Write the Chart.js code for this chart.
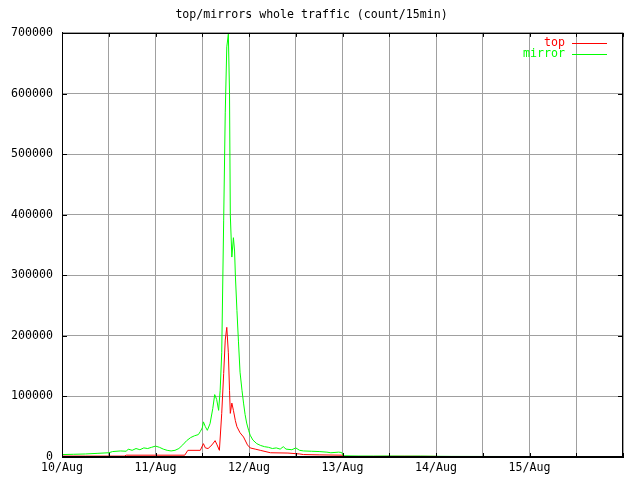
<!DOCTYPE html>
<html>
<head>
<meta charset="utf-8">
<script src="https://cdn.jsdelivr.net/npm/chart.js@4/dist/chart.umd.min.js"></script>
<style>
  html, body { margin: 0; padding: 0; background: #ffffff; }
  #chart { display: block; }
</style>
</head>
<body>
<canvas id="chart" width="640" height="480"></canvas>
<script>
// hours since 10/Aug 00:00, counts per 15 min
const mirrorHours = [0, 3, 6, 9, 12, 13, 15, 16.5, 17, 18, 19, 20, 21, 22, 23, 24, 25, 26, 27, 28, 29, 30, 31, 32, 33, 34, 35, 35.5, 36, 36.3, 36.8, 37.3, 38, 38.7, 39.2, 39.7, 40.2, 40.6, 41, 41.5, 41.9, 42.3, 42.7, 43, 43.2, 43.6, 44, 44.3, 44.5, 44.9, 45.3, 45.7, 46.2, 46.6, 47, 47.4, 47.9, 48.3, 49, 50, 51, 52, 53, 54, 55, 56, 56.8, 57.5, 59, 60, 61, 62, 64, 66, 68, 69, 71, 71.8, 72.2, 76, 80, 84, 88, 92, 96, 100, 108, 116, 124, 132, 140, 144];
const mirrorCounts = [4000, 4500, 5000, 6000, 7000, 9000, 10000, 9500, 13000, 11000, 14000, 12000, 15000, 14000, 16000, 18000, 16000, 13000, 11000, 10000, 11000, 14000, 20000, 27000, 32000, 35000, 37000, 42000, 48000, 58000, 50000, 44000, 55000, 80000, 103000, 95000, 77000, 110000, 172000, 391000, 568000, 677000, 698000, 600000, 400000, 330000, 362000, 340000, 300000, 242000, 190000, 140000, 110000, 89000, 70000, 56000, 44000, 36000, 28000, 22000, 19000, 17000, 16000, 14000, 15000, 13000, 17000, 13000, 12000, 15000, 11000, 10000, 9500, 9000, 8000, 7000, 8000, 7500, 2000, 1600, 1500, 1600, 1400, 1500, 1200, 1000, 900, 800, 800, 700, 600, 600];

const topHours = [0, 6, 12, 16, 16.5, 24, 31.5, 32.3, 35.5, 36.3, 36.8, 37.5, 38.5, 39.3, 39.8, 40.4, 41, 41.5, 41.9, 42.3, 42.7, 43, 43.2, 43.6, 44, 44.5, 44.9, 45.7, 46.6, 47.6, 48.3, 49.6, 50.9, 53.5, 58, 61, 62, 66, 72, 72.3, 80, 88, 96, 96.3, 108, 120, 132, 144];
const topCounts = [1500, 1500, 1500, 1500, 3000, 3000, 3000, 11000, 11000, 22000, 15000, 14000, 20000, 27000, 20000, 11000, 72000, 138000, 193000, 214000, 172000, 110000, 72000, 89000, 77000, 60000, 50000, 40000, 33000, 20000, 15000, 13000, 11000, 7000, 6500, 5000, 4000, 3500, 3000, 800, 1000, 1200, 1000, 300, 200, 200, 200, 200];

const seriesNames = ['top', 'mirror'];
const seriesColors = ['#ff0000', '#00ff00'];
const dayLabels = ['10/Aug', '11/Aug', '12/Aug', '13/Aug', '14/Aug', '15/Aug'];

const monoFont = "'DejaVu Sans Mono', 'Liberation Mono', monospace";

function toPoints(hours, counts) {
    return hours.map((h, i) => ({ x: h, y: counts[i] }));
}

// box + inward tics like gnuplot
const frameBox = {
    id: 'frameBox',
    afterDatasetsDraw(chart) {
        const { ctx, chartArea: a, scales } = chart;
        ctx.save();
        ctx.strokeStyle = '#000000';
        ctx.lineWidth = 1;
        ctx.beginPath();
        scales.x.ticks.forEach(t => {
            const px = Math.round(scales.x.getPixelForValue(t.value)) + 0.5;
            ctx.moveTo(px, a.bottom);
            ctx.lineTo(px, a.bottom - 4);
            ctx.moveTo(px, a.top);
            ctx.lineTo(px, a.top + 4);
        });
        scales.y.ticks.forEach(t => {
            const py = Math.round(scales.y.getPixelForValue(t.value)) + 0.5;
            ctx.moveTo(a.left, py);
            ctx.lineTo(a.left + 5, py);
            ctx.moveTo(a.right, py);
            ctx.lineTo(a.right - 5, py);
        });
        ctx.stroke();
        ctx.strokeRect(Math.round(a.left) + 0.5, Math.round(a.top) + 0.5,
            Math.round(a.right - a.left) - 1, Math.round(a.bottom - a.top) - 1);

        // key: text right-aligned, sample line after it
        ctx.font = '11.6px ' + monoFont;
        ctx.textAlign = 'right';
        ctx.textBaseline = 'middle';
        chart.data.datasets.forEach((ds, i) => {
            const y = a.top + 10 + i * 11;
            ctx.fillStyle = ds.borderColor;
            ctx.fillText(ds.label, a.right - 58, y);
            ctx.strokeStyle = ds.borderColor;
            ctx.beginPath();
            ctx.moveTo(a.right - 51, Math.round(y) + 0.5);
            ctx.lineTo(a.right - 16, Math.round(y) + 0.5);
            ctx.stroke();
        });
        ctx.restore();
    }
};

new Chart(document.getElementById('chart'), {
    type: 'line',
    data: {
        datasets: [
            {
                label: seriesNames[0],
                data: toPoints(topHours, topCounts),
                borderColor: seriesColors[0],
                borderWidth: 1,
                pointRadius: 0,
                tension: 0,
                order: 1
            },
            {
                label: seriesNames[1],
                data: toPoints(mirrorHours, mirrorCounts),
                borderColor: seriesColors[1],
                borderWidth: 1,
                pointRadius: 0,
                tension: 0,
                order: 0
            }
        ]
    },
    options: {
        responsive: false,
        animation: false,
        layout: { padding: { left: 0, right: 17, top: 0, bottom: 0 } },
        plugins: {
            legend: { display: false },
            tooltip: { enabled: false },
            title: {
                display: true,
                text: 'top/mirrors whole traffic (count/15min)',
                color: '#000000',
                font: { family: monoFont, size: 11.6, weight: 'normal', lineHeight: 1.2 },
                padding: { top: 8, bottom: 11 }
            }
        },
        scales: {
            x: {
                type: 'linear',
                min: 0,
                max: 144,
                afterFit: s => { s.height = 23; },
                grid: { color: '#a0a0a0', drawTicks: false },
                border: { color: '#000000' },
                ticks: {
                    stepSize: 12,
                    autoSkip: false,
                    maxRotation: 0,
                    padding: 4,
                    color: '#000000',
                    font: { family: monoFont, size: 11.6 },
                    callback: v => (v % 24 === 0 && v < 144) ? dayLabels[v / 24] : ''
                }
            },
            y: {
                min: 0,
                max: 700000,
                afterFit: s => { s.width = 62; },
                grid: { color: '#a0a0a0', drawTicks: false },
                border: { color: '#000000' },
                ticks: {
                    stepSize: 100000,
                    padding: 9,
                    color: '#000000',
                    font: { family: monoFont, size: 11.6 },
                    callback: v => String(v)
                }
            }
        }
    },
    plugins: [frameBox]
});
</script>
</body>
</html>
